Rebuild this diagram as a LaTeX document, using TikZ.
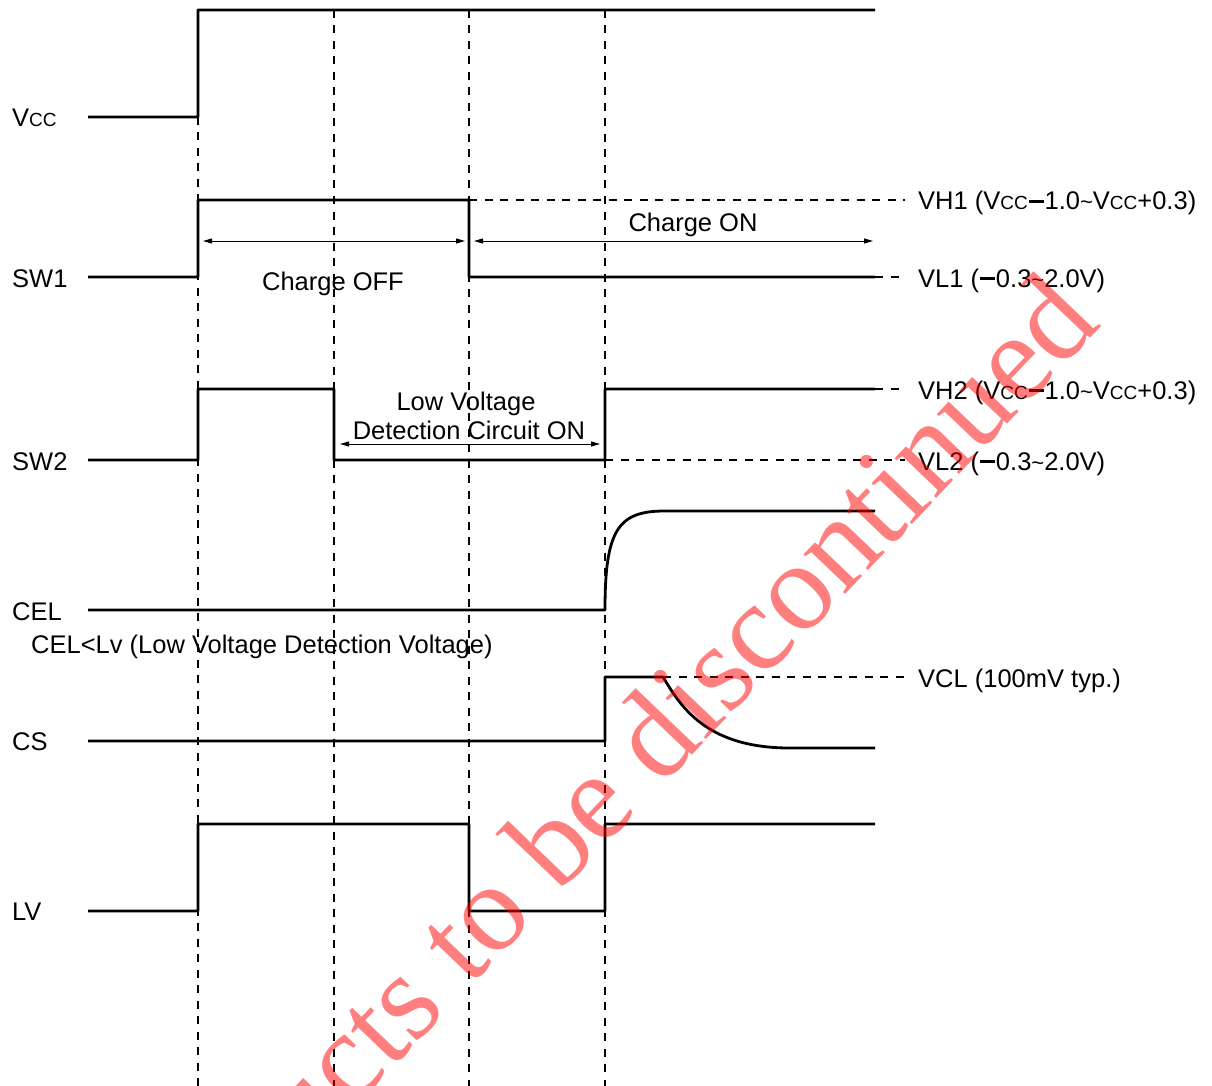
\documentclass[tikz,border=0pt]{standalone}
\usepackage{fontspec}
\setmainfont{Liberation Sans}
\newfontfamily\wmfont{Liberation Serif}
\usetikzlibrary{arrows.meta}
\newcommand{\Vc}{V{\fontsize{19}{19}\selectfont CC}}
\newcommand{\mn}{\kern0.03em\rule[0.28em]{0.6em}{0.12em}\kern0.03em}
\newcommand{\tl}{{\fontsize{22}{22}\selectfont\textasciitilde}}
\begin{document}
\begin{tikzpicture}[x=1pt,y=-1pt,
  sig/.style={line width=2.8pt,line join=round,line cap=butt,rounded corners=0.4pt},
  guide/.style={line width=1.3pt,dash pattern=on 8pt off 7.5pt},
  dim/.style={line width=1pt,{Triangle[length=9pt,width=5pt]}-{Triangle[length=9pt,width=5pt]}},
  lbl/.style={inner sep=0pt,anchor=base west,font=\fontsize{25.5}{28}\selectfont},
  ctr/.style={inner sep=0pt,anchor=base,font=\fontsize{25.5}{28}\selectfont}]
\useasboundingbox (0,0) rectangle (1212,1086);
% vertical guides
\draw[guide] (198,117) -- (198,1086);
\draw[guide] (334,10) -- (334,1086);
\draw[guide] (469,10) -- (469,1086);
\draw[guide] (605,10) -- (605,1086);
% horizontal guides
\draw[guide] (469,200) -- (905,200);
\draw[guide] (875,277) -- (905,277);
\draw[guide] (875,389) -- (905,389);
\draw[guide] (605,460) -- (905,460);
\draw[guide] (663,677) -- (905,677);
% signals
\draw[sig] (88,117) -- (198,117) -- (198,10) -- (875,10);
\draw[sig] (88,277) -- (198,277) -- (198,200) -- (469,200) -- (469,277) -- (875,277);
\draw[sig] (88,460) -- (198,460) -- (198,389) -- (334,389) -- (334,460) -- (605,460) -- (605,389) -- (875,389);
\draw[sig] (88,610) -- (605,610) .. controls (605,530) and (618,511) .. (665,511) -- (875,511);
\draw[sig] (88,741) -- (605,741) -- (605,677) -- (663,677) .. controls (680,705) and (705,748) .. (790,748) -- (875,748);
\draw[sig] (88,911) -- (198,911) -- (198,824) -- (469,824) -- (469,911) -- (605,911) -- (605,824) -- (875,824);
% dimension arrows
\coordinate (offL) at (203,241); \coordinate (offR) at (465,241);
\coordinate (onL) at (474,241); \coordinate (onR) at (873,241);
\coordinate (lvL) at (340,444); \coordinate (lvR) at (600,444);
\draw[dim] (offL) -- (offR);
\draw[dim] (onL) -- (onR);
\draw[dim] (lvL) -- (lvR);
\node[ctr] (toff) at (333,290) {Charge OFF};
\node[ctr] (ton) at (693,231) {Charge ON};
\node[ctr] (tlv1) at (466,410) {Low Voltage};
\node[ctr] (tlv2) at (469,439) {Detection Circuit ON};
% left labels
\node[lbl] (lvcc) at (12,127) {\Vc};
\node[lbl] (lsw1) at (12,287) {SW1};
\node[lbl] (lsw2) at (12,470) {SW2};
\node[lbl] (lcel) at (12,620) {CEL};
\node[lbl] (lcel2) at (31,653) {CEL<Lv (Low Voltage Detection Voltage)};
\node[lbl] (lcs) at (12,750) {CS};
\node[lbl] (llv) at (12,920) {LV};
% right labels
\node[lbl] (rvh1) at (918,210) {VH1 (\Vc\mn1.0\tl\Vc+0.3)};
\node[lbl] (rvl1) at (918,287) {VL1 (\mn0.3\tl2.0V)};
\node[lbl] (rvh2) at (918,399) {VH2 (\Vc\mn1.0\tl\Vc+0.3)};
\node[lbl] (rvl2) at (918,470) {VL2 (\mn0.3\tl2.0V)};
\node[lbl] (rvcl) at (918,687) {VCL (100mV typ.)};
% watermark
\begin{scope}
\clip (0,0) rectangle (1212,1086);
\node[inner sep=0pt,anchor=base,rotate=46.3,text=red,text opacity=0.5,
  font=\wmfont\fontsize{125}{125}\selectfont] (wm) at (624,826) {Products to be discontinued};
\end{scope}
\end{tikzpicture}
\end{document}
